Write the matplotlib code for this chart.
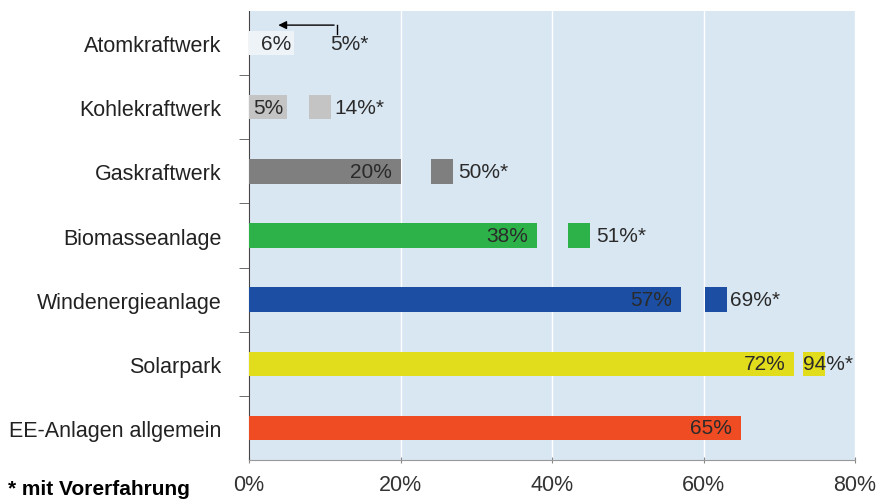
import matplotlib.pyplot as plt

plt.rcParams["font.family"] = ["Liberation Sans", "DejaVu Sans"]

categories = ["Atomkraftwerk", "Kohlekraftwerk", "Gaskraftwerk", "Biomasseanlage",
              "Windenergieanlage", "Solarpark", "EE-Anlagen allgemein"]
values = [6, 5, 20, 38, 57, 72, 65]
experienced = [5, 14, 50, 51, 69, 94, None]
colors = ["#eef3f8", "#c4c4c4", "#7f7f7f", "#2db24a", "#1c4fa3", "#e2dd1c", "#ef4c23"]
# where the small "mit Vorerfahrung" squares and labels sit (in axis %)
marker_start = [None, 7.9, 24.0, 42.1, 60.2, 73.1, None]
label_start = [10.7, 11.3, 27.6, 45.8, 63.5, 73.1, None]

fig = plt.figure(figsize=(8.77, 5.02), dpi=100)
ax = fig.add_axes([249 / 877, 41 / 502, 606 / 877, 449 / 502])
ax.set_facecolor("#d9e7f3")

y = list(range(len(categories)))
h = 0.38
ax.barh(y, values, height=h, color=colors, zorder=3)
for i, v in enumerate(values):
    off = 1.2 if v > 10 else 0.4
    ax.text(v - off, i, f"{v}%", ha="right", va="center", fontsize=15,
            color="#2a2a2a", zorder=4)
    if marker_start[i] is not None:
        ax.barh(i, 2.9, left=marker_start[i], height=h, color=colors[i], zorder=3)
    if label_start[i] is not None:
        ax.text(label_start[i], i, f"{experienced[i]}%*", ha="left", va="center",
                fontsize=15, color="#2a2a2a", zorder=4)

# arrow for Atomkraftwerk
ax.annotate("", xy=(3.5, -0.28), xytext=(11.6, -0.28),
            arrowprops=dict(arrowstyle="-|>", color="black", lw=1, mutation_scale=12),
            zorder=5)
ax.plot([11.6, 11.6], [-0.28, -0.14], color="black", lw=1, zorder=5)

ax.set_xlim(0, 80)
ax.set_ylim(len(categories) - 0.5, -0.5)
ax.set_xticks([0, 20, 40, 60, 80])
ax.set_xticklabels(["0%", "20%", "40%", "60%", "80%"], fontsize=15.5, color="#333333")
ax.set_yticks(y)
ax.set_yticklabels(categories, fontsize=15.5, color="#222222")
ax.set_yticks([i + 0.5 for i in range(len(categories) - 1)], minor=True)
ax.tick_params(axis="y", which="major", length=0, pad=20)
ax.tick_params(axis="y", which="minor", length=7, color="#555555")
ax.tick_params(axis="x", length=4, direction="inout", color="#888888", pad=8)
ax.grid(axis="x", color="white", lw=1, zorder=1)
ax.set_axisbelow(True)
for s in ["top", "right"]:
    ax.spines[s].set_visible(False)
ax.spines["left"].set_color("#444444")
ax.spines["bottom"].set_color("#999999")

fig.text(8 / 877, 1 - 490 / 502, "* mit Vorerfahrung", fontsize=15,
         fontweight="bold", va="center", ha="left")

fig.savefig("out.png", dpi=100)
